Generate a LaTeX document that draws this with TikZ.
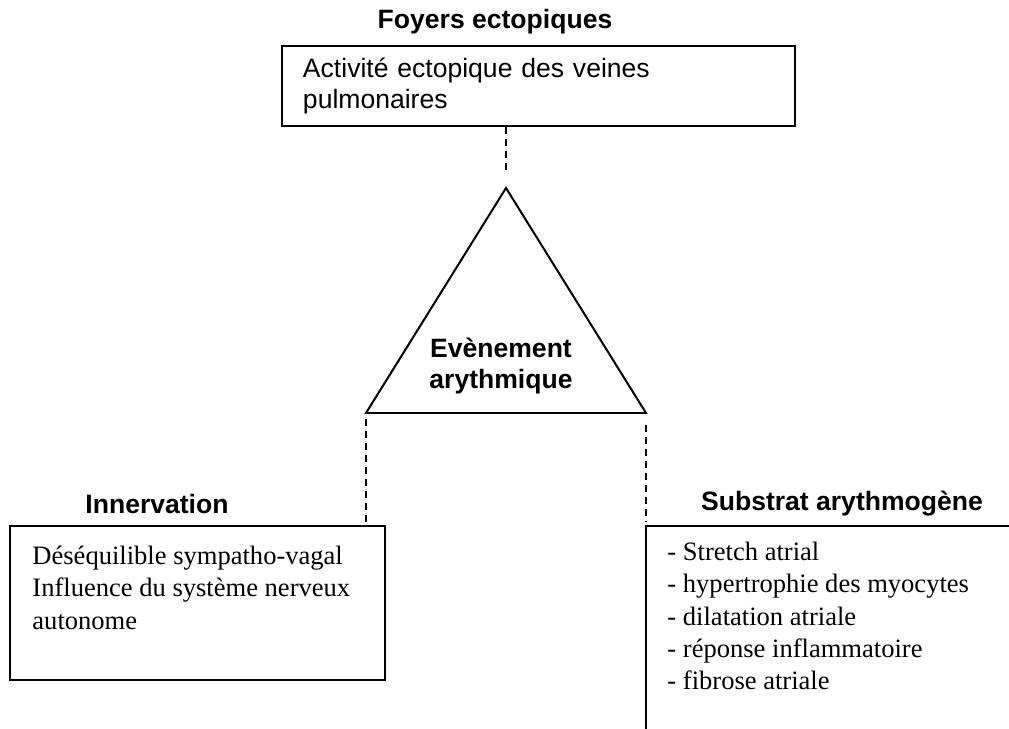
\documentclass[tikz,border=0pt]{standalone}
\usepackage{fontspec}
\setmainfont{Liberation Serif}
\newfontfamily\arialfont{Liberation Sans}
\usetikzlibrary{positioning}

\begin{document}
\begin{tikzpicture}[x=0.452pt,y=-0.452pt,
	titre/.style={font=\arialfont\bfseries\fontsize{12}{14}\selectfont},
	boite/.style={draw,line width=0.9pt},
	liste/.style={font=\fontsize{12}{14.5}\selectfont,align=left,anchor=north west,inner sep=0pt},
	pointille/.style={line width=0.9pt,dash pattern=on 3.2pt off 2.2pt}]
	\useasboundingbox (0,0) rectangle (1009,729);
	% foyers ectopiques
	\node[titre] (titrefoyers) at (495,22) {Foyers ectopiques};
	\node[boite,minimum width=231.9pt,minimum height=36.2pt,inner xsep=9.5pt,text width=212.9pt,align=left,
		font=\arialfont\fontsize{12}{14}\selectfont] (foyers) at (538.5,86) {Activité ectopique des veines\\[0.3pt]pulmonaires};
	% evenement arythmique
	\coordinate (sommet) at (506,188);
	\coordinate (gauche) at (366,413);
	\coordinate (droite) at (646,413);
	\draw[line width=0.9pt] (sommet) -- (gauche) -- (droite) -- cycle;
	\node[titre,align=center] (evenement) at (501,366) {Evènement\\arythmique};
	\coordinate (finhaut) at (506,174);
	\draw[pointille] (sommet |- foyers.south) -- (finhaut);
	% innervation
	\node[titre] (titreinnerv) at (157,504) {Innervation};
	\node[boite,minimum width=169.5pt,minimum height=69.6pt] (innerv) at (197.5,603) {};
	\node[liste] (innervtexte) at (32,546) {Déséquilible sympatho-vagal\\Influence du système nerveux\\autonome};
	\coordinate (debutgauche) at (366,419);
	\coordinate (fingauche) at (366,522);
	\draw[pointille] (debutgauche) -- (fingauche);
	% substrat arythmogene
	\node[titre] (titresubstrat) at (842,504) {Substrat arythmogène};
	\coordinate (coin) at (646,526);
	\coordinate (finhoriz) at (1009,526);
	\coordinate (finvert) at (646,729);
	\draw[line width=0.9pt] (finhoriz) -- (coin) -- (finvert);
	\coordinate (debutdroite) at (646,425);
	\coordinate (findroite) at (646,522);
	\draw[pointille] (debutdroite) -- (findroite);
	\node[liste] (substrattexte) at (667,542) {- Stretch atrial\\- hypertrophie des myocytes\\- dilatation atriale\\- réponse inflammatoire\\- fibrose atriale};
\end{tikzpicture}
\end{document}
